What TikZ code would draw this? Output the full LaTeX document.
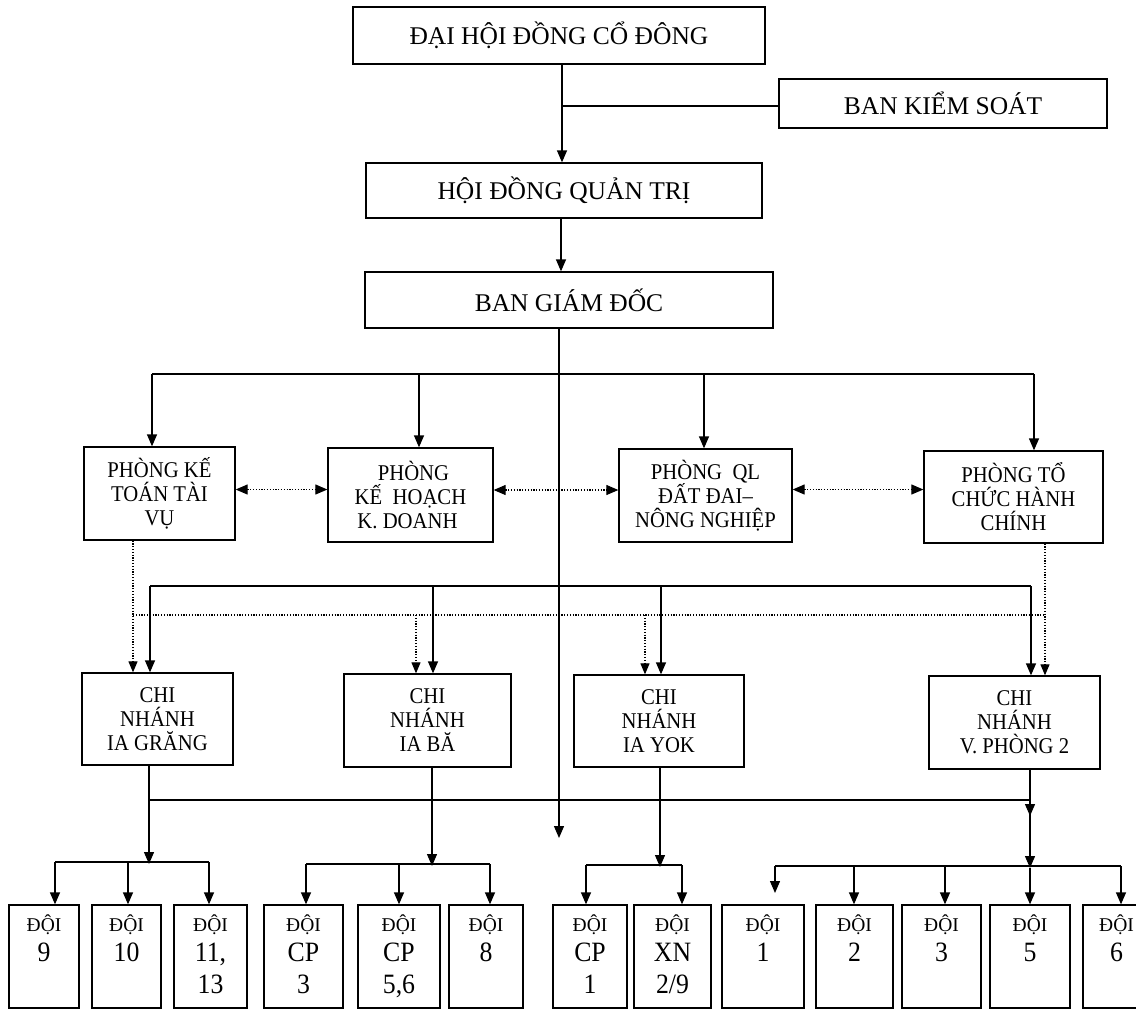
\documentclass[tikz,border=0pt]{standalone}
\usepackage{fontspec}
\setmainfont{Liberation Serif}
\newfontfamily\condf[FakeStretch=0.92]{Liberation Serif}
\usetikzlibrary{arrows.meta}

\tikzset{
  ln/.style={line width=1.3pt},
  arr/.style={ln,-{Triangle[length=12pt,width=10pt]}},
  dot/.style={line width=1.1pt, dash pattern=on 1.2pt off 1.6pt},
  darr/.style={dot,-{Triangle[length=11pt,width=9pt]}},
  ddarr/.style={dot,{Triangle[length=12pt,width=10pt]}-{Triangle[length=12pt,width=10pt]}},
  topbox/.style={draw, line width=1.3pt, inner sep=0pt, font=\fontsize{25.5}{29}\selectfont},
  midbox/.style={draw, line width=1.3pt, inner sep=0pt, align=center, font=\condf\fontsize{22.5}{24}\selectfont},
  doibox/.style={draw, line width=1.3pt, inner sep=0pt},
  lone/.style={anchor=base, inner sep=0pt, font=\fontsize{19.5}{22}\selectfont},
  ltwo/.style={anchor=base, inner sep=0pt, font=\condf\fontsize{28}{30}\selectfont},
}

\newcommand\doi[5]{%
  \node[doibox, minimum width={#3-#2}, minimum height=103pt] (#1) at ({(#2+#3)/2},956.5) {};
  \node[lone] (#1a) at ({(#2+#3)/2},931) {ĐỘI};
  \node[ltwo] (#1b) at ({(#2+#3)/2},961) {#4};
  \node[ltwo] (#1c) at ({(#2+#3)/2},993) {#5};
}

\begin{document}
\begin{tikzpicture}[x=1pt,y=-1pt]
\useasboundingbox (0,0) rectangle (1136,1010);
\clip (0,0) rectangle (1136,1010);

% top
\node[topbox, minimum width=412pt, minimum height=57pt] (dhcd) at (559,35.5) {ĐẠI HỘI ĐỒNG CỔ ĐÔNG};
\node[topbox, minimum width=328pt, minimum height=49pt] (bks) at (943,103.5) {BAN KIỂM SOÁT};
\node[topbox, minimum width=396pt, minimum height=55pt] (hdqt) at (564,190.5) {HỘI ĐỒNG QUẢN TRỊ};
\node[topbox, minimum width=408pt, minimum height=56pt] (bgd) at (569,300) {BAN GIÁM ĐỐC};

\coordinate (j1) at (562,106);
\draw[arr] (dhcd.south -| j1) -- (hdqt.north -| j1);
\draw[ln] (bks.west |- j1) -- (j1);
\coordinate (j2) at (561,0);
\draw[arr] (hdqt.south -| j2) -- (bgd.north -| j2);
\coordinate (trunkEnd) at (559,838);
\draw[arr] (bgd.south -| trunkEnd) -- (trunkEnd);

% departments
\node[midbox, minimum width=151pt, minimum height=93pt] (pk) at (159.5,493.5) {PHÒNG KẾ\\TOÁN TÀI\\VỤ};
\node[midbox, minimum width=165pt, minimum height=94pt] (pkh) at (410.5,495) {\hspace*{6pt}PHÒNG\\KẾ\ \ HOẠCH\\K. DOANH\hspace*{6pt}};
\node[midbox, minimum width=173pt, minimum height=93pt] (pql) at (705.5,495.5) {PHÒNG\ \ QL\\ĐẤT ĐAI–\\NÔNG NGHIỆP};
\node[midbox, minimum width=179pt, minimum height=92pt] (ptc) at (1013.5,497) {PHÒNG TỔ\\CHỨC HÀNH\\CHÍNH};

\coordinate (b1L) at (152,374);
\coordinate (k1) at (419,374);
\coordinate (k2) at (704,374);
\coordinate (b1R) at (1034,374);
\draw[ln] (b1L) -- (b1R);
\draw[arr] (b1L) -- (pk.north -| b1L);
\draw[arr] (k1) -- (pkh.north -| k1);
\draw[arr] (k2) -- (pql.north -| k2);
\draw[arr] (b1R) -- (ptc.north -| b1R);

\draw[ddarr] ([yshift=4pt]pk.east) -- ([yshift=4pt]pk.east -| pkh.west);
\draw[ddarr] ([yshift=5pt]pkh.east) -- ([yshift=5pt]pkh.east -| pql.west);
\draw[ddarr] ([yshift=6pt]pql.east) -- ([yshift=6pt]pql.east -| ptc.west);

% branches
\node[midbox, minimum width=151pt, minimum height=92pt] (cn1) at (157.5,719) {CHI\\NHÁNH\\IA GRĂNG};
\node[midbox, minimum width=167pt, minimum height=93pt] (cn2) at (427.5,720.5) {CHI\\NHÁNH\\IA BĂ};
\node[midbox, minimum width=170pt, minimum height=92pt] (cn3) at (659,721) {CHI\\NHÁNH\\IA YOK};
\node[midbox, minimum width=171pt, minimum height=93pt] (cn4) at (1014.5,722.5) {CHI\\NHÁNH\\V. PHÒNG 2};

\coordinate (b2L) at (150,586);
\coordinate (m1) at (433,586);
\coordinate (m2) at (661,586);
\coordinate (b2R) at (1031,586);
\draw[ln] (b2L) -- (b2R);
\draw[arr] (b2L) -- (cn1.north -| b2L);
\draw[arr] (m1) -- (cn2.north -| m1);
\draw[arr] (m2) -- (cn3.north -| m2);
\draw[arr] (b2R) -- (cn4.north -| b2R);

\coordinate (dL) at (133,615);
\coordinate (e1) at (416,615);
\coordinate (e2) at (645,615);
\coordinate (dR) at (1045,615);
\draw[darr] (pk.south -| dL) -- (cn1.north -| dL);
\draw[dot] (dL) -- (dR);
\draw[darr] (e1) -- (cn2.north -| e1);
\draw[darr] (e2) -- (cn3.north -| e2);
\draw[darr] (ptc.south -| dR) -- (cn4.north -| dR);

% lower links
\coordinate (g1) at (149,864);
\coordinate (g2) at (432,866);
\coordinate (g3) at (660,867);
\coordinate (g4) at (1030,868);
\draw[arr] (cn1.south -| g1) -- (g1);
\draw[arr] (cn2.south -| g2) -- (g2);
\draw[arr] (cn3.south -| g3) -- (g3);
\draw[arr] (cn4.south -| g4) -- (g4);
\coordinate (b3L) at (149,800);
\coordinate (b3R) at (1030,800);
\coordinate (b3T) at (1030,816);
\draw[ln] (b3L) -- (b3R);
\draw[arr] (b3R) -- (b3T);

% teams
\doi{d9}{9}{79}{9}{}
\doi{d10}{92}{161}{10}{}
\doi{d11}{174}{247}{11,}{13}
\doi{cp3}{264}{343}{CP}{3}
\doi{cp56}{358}{440}{CP}{5,6}
\doi{d8}{449}{523}{8}{}
\doi{cp1}{553}{627}{CP}{1}
\doi{xn}{634}{711}{XN}{2/9}
\doi{d1}{722}{804}{1}{}
\doi{d2}{816}{893}{2}{}
\doi{d3}{902}{981}{3}{}
\doi{d5}{990}{1070}{5}{}
\doi{d6}{1083}{1150}{6}{}

% distribution bars
\coordinate (h1a) at (55,862);
\coordinate (h1b) at (128,862);
\coordinate (h1c) at (209,862);
\draw[ln] (h1a) -- (h1c);
\draw[arr] (h1a) -- (d9.north -| h1a);
\draw[arr] (h1b) -- (d10.north -| h1b);
\draw[arr] (h1c) -- (d11.north -| h1c);

\coordinate (h2a) at (306,864);
\coordinate (h2b) at (399,864);
\coordinate (h2c) at (490,864);
\draw[ln] (h2a) -- (h2c);
\draw[arr] (h2a) -- (cp3.north -| h2a);
\draw[arr] (h2b) -- (cp56.north -| h2b);
\draw[arr] (h2c) -- (d8.north -| h2c);

\coordinate (h3a) at (586,865);
\coordinate (h3b) at (682,865);
\draw[ln] (h3a) -- (h3b);
\draw[arr] (h3a) -- (cp1.north -| h3a);
\draw[arr] (h3b) -- (xn.north -| h3b);

\coordinate (h4a) at (775,866);
\coordinate (h4aT) at (775,893);
\coordinate (h4b) at (854,866);
\coordinate (h4c) at (945,866);
\coordinate (h4e) at (1121,866);
\draw[ln] (h4a) -- (h4e);
\draw[arr] (h4a) -- (h4aT);
\draw[arr] (h4b) -- (d2.north -| h4b);
\draw[arr] (h4c) -- (d3.north -| h4c);
\draw[arr] (g4) -- (d5.north -| g4);
\draw[arr] (h4e) -- (d6.north -| h4e);
\end{tikzpicture}
\end{document}
